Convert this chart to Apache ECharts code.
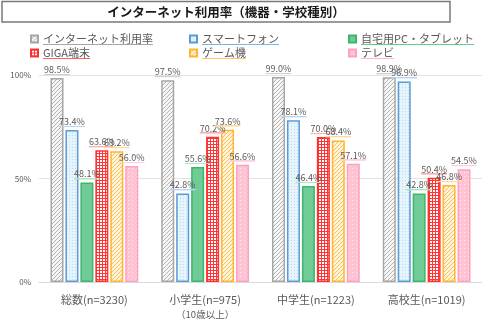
<!DOCTYPE html>
<html>
<head>
<meta charset="utf-8">
<style>
  html, body { margin: 0; padding: 0; background: #fff; }
  #chart { width: 482px; height: 330px; }
</style>
<script src="https://cdn.jsdelivr.net/npm/echarts@6/dist/echarts.min.js"></script>
</head>
<body>
<div id="chart"></div>
<script>
// Internet usage rate by device and school level (%)
const categories = ['総数(n=3230)', '小学生(n=975)\n（10歳以上）', '中学生(n=1223)', '高校生(n=1019)'];
const seriesNames = ['インターネット利用率', 'スマートフォン', '自宅用PC・タブレット', 'GIGA端末', 'ゲーム機', 'テレビ'];
const internetRate = [98.5, 97.5, 99.0, 98.9];
const smartphone   = [73.4, 42.8, 78.1, 96.9];
const homePC       = [48.1, 55.6, 46.4, 42.8];
const gigaDevice   = [63.6, 70.2, 70.0, 50.4];
const gameConsole  = [63.2, 73.6, 68.4, 46.8];
const television   = [56.0, 56.6, 57.1, 54.5];
const yAxisTicks = { min: 0, max: 100, interval: 50 };

const FONT = '"Noto Sans CJK JP", "Noto Sans", sans-serif';
const TEXT = '#595959';

// small repeating fills for the bars
function makePattern(size, bg, draw) {
  const c = document.createElement('canvas');
  c.width = c.height = size;
  const ctx = c.getContext('2d');
  ctx.fillStyle = bg;
  ctx.fillRect(0, 0, size, size);
  draw(ctx, size);
  return { image: c, repeat: 'repeat' };
}
function hatch(color) {
  return (ctx, s) => {
    ctx.strokeStyle = color;
    ctx.lineWidth = 1;
    ctx.beginPath();
    ctx.moveTo(-1, s + 1); ctx.lineTo(s + 1, -1);
    ctx.moveTo(-1, 1); ctx.lineTo(1, -1);
    ctx.moveTo(s - 1, s + 1); ctx.lineTo(s + 1, s - 1);
    ctx.stroke();
  };
}
function dots(color) {
  return (ctx) => { ctx.fillStyle = color; ctx.fillRect(0, 0, 1, 1); };
}
function grid(color) {
  return (ctx, s) => { ctx.fillStyle = color; ctx.fillRect(0, 0, s, 1); ctx.fillRect(0, 0, 1, s); };
}

const styles = [
  { fill: makePattern(4, '#f6f6f6', hatch('#b4b4b4')), border: '#a6a6a6', line: '#a6a6a6', labelLine: '#cfcfcf' },
  { fill: makePattern(3, '#e6f4fc', dots('#b9dcf3')), border: '#5b9bd5', line: '#7fb2e0', labelLine: '#b5d4f0' },
  { fill: '#70cc96', border: '#3cb56e', line: '#62cc90', labelLine: '#a9e4c0' },
  { fill: makePattern(3, '#ffffff', grid('#ff3434')), border: '#ff3030', line: '#ff6060', labelLine: '#ffb0b0' },
  { fill: makePattern(4, '#fff5df', hatch('#ffc04d')), border: '#ffb52e', line: '#ffc860', labelLine: '#ffdc95' },
  { fill: makePattern(4, '#ffc4d2', dots('#ffe8ee')), border: '#ff9fc4', line: '#ffb4d0', labelLine: '#ffcfe0' }
];
const values = [internetRate, smartphone, homePC, gigaDevice, gameConsole, television];

function underline(color, stop) {
  return new echarts.graphic.LinearGradient(0, 0, 0, 1, [
    { offset: 0, color: 'rgba(255,255,255,0)' },
    { offset: stop, color: 'rgba(255,255,255,0)' },
    { offset: stop, color: color },
    { offset: 1, color: color }
  ]);
}

const series = seriesNames.map((name, i) => ({
  name: name,
  type: 'bar',
  data: values[i],
  barWidth: 13,
  barGap: '15%',
  itemStyle: { color: styles[i].fill, borderColor: styles[i].border, borderWidth: 1.5 },
  label: {
    show: true,
    position: 'top',
    distance: 3,
    fontFamily: FONT,
    fontSize: 9,
    color: TEXT,
    padding: [0, 0, 1, 0],
    backgroundColor: underline(styles[i].labelLine, 0.86),
    formatter: p => p.value.toFixed(1) + '%'
  },
  emphasis: { disabled: true }
}));

// legend laid out in three columns of two rows
const legendCols = [[0, 3], [1, 4], [2, 5]];
const legendLeft = [25, 184, 343];
const legend = legendCols.map((col, k) => ({
  orient: 'vertical',
  left: legendLeft[k],
  top: 28,
  itemWidth: 7,
  itemHeight: 7,
  itemGap: 2,
  icon: 'rect',
  selectedMode: false,
  data: col.map(i => ({
    name: seriesNames[i],
    textStyle: {
      fontFamily: FONT,
      fontSize: 11,
      color: TEXT,
      padding: [0, 0, 1, 0],
      backgroundColor: underline(styles[i].line, 0.9)
    }
  }))
}));

const chart = echarts.init(document.getElementById('chart'), null, { renderer: 'canvas' });
chart.setOption({
  backgroundColor: '#ffffff',
  animation: false,
  graphic: [
    {
      type: 'rect',
      shape: { x: 2, y: 1.5, width: 448, height: 20.5 },
      style: { fill: '#ffffff', stroke: '#7a7a7a', lineWidth: 1.5 },
      silent: true
    },
    {
      type: 'text',
      x: 226,
      y: 12,
      style: {
        text: 'インターネット利用率（機器・学校種別）',
        fontFamily: FONT,
        fontWeight: 'bold',
        fontSize: 12.5,
        fill: '#1a1a1a',
        align: 'center',
        verticalAlign: 'middle'
      },
      silent: true
    }
  ],
  legend: legend,
  grid: { left: 39, right: -11, top: 75, bottom: 48 },
  xAxis: {
    type: 'category',
    data: categories,
    axisLine: { lineStyle: { color: '#d9d9d9', width: 1 } },
    axisTick: { show: false },
    axisLabel: {
      margin: 11,
      interval: 0,
      formatter: v => v.split('\n').map((s, i) => i ? '{sub|' + s + '}' : '{main|' + s + '}').join('\n'),
      rich: {
        main: { fontFamily: FONT, fontSize: 11, color: TEXT, lineHeight: 14 },
        sub: { fontFamily: FONT, fontSize: 9.5, color: TEXT, lineHeight: 14 }
      }
    }
  },
  yAxis: {
    type: 'value',
    min: yAxisTicks.min,
    max: yAxisTicks.max,
    interval: yAxisTicks.interval,
    axisLine: { show: false },
    axisTick: { show: false },
    splitLine: { lineStyle: { color: '#e3e3e3', width: 1 } },
    axisLabel: {
      margin: 8,
      fontFamily: FONT,
      fontSize: 8,
      color: TEXT,
      formatter: v => v + '%'
    }
  },
  series: series
});
</script>
</body>
</html>
